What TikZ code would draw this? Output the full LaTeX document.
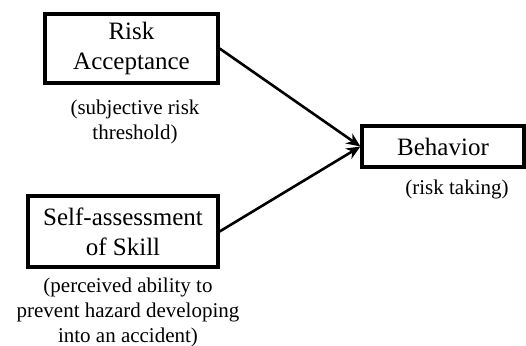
\documentclass[tikz,border=0pt]{standalone}
\usepackage{fontspec}
\setmainfont{Liberation Serif}
\usetikzlibrary{arrows.meta}
\tikzset{
	box/.style={draw,line width=1.6pt,align=center,inner sep=0pt,font=\fontsize{12.5}{15}\selectfont},
	note/.style={align=center,inner sep=0pt,font=\fontsize{10.5}{12.5}\selectfont},
	link/.style={line width=1.3pt,-{Stealth[length=7pt,width=6pt]}}
}
\begin{document}
\begin{tikzpicture}[x=0.5pt,y=-0.5pt]
				\useasboundingbox (0,0) rectangle (526,346);
				\node[box,minimum width=86.5pt,minimum height=34.5pt] (RA) at (131.5,48.5) {Risk\\Acceptance};
				\node[box,minimum width=95pt,minimum height=35.5pt] (SA) at (123,231.5) {Self-assessment\\of Skill};
				\node[box,minimum width=81pt,minimum height=20.5pt] (B) at (443,146.5) {Behavior};
				\node[note] (RAn) at (135,122) {(subjective risk\\threshold)};
				\node[note] (SAn) at (128,312) {(perceived ability to\\prevent hazard developing\\into an accident)};
				\node[note] (Bn) at (457,189) {(risk taking)};
				\draw[link] (RA.east) -- (B.west);
				\draw[link] (SA.east) -- (B.west);
				\end{tikzpicture}
\end{document}
